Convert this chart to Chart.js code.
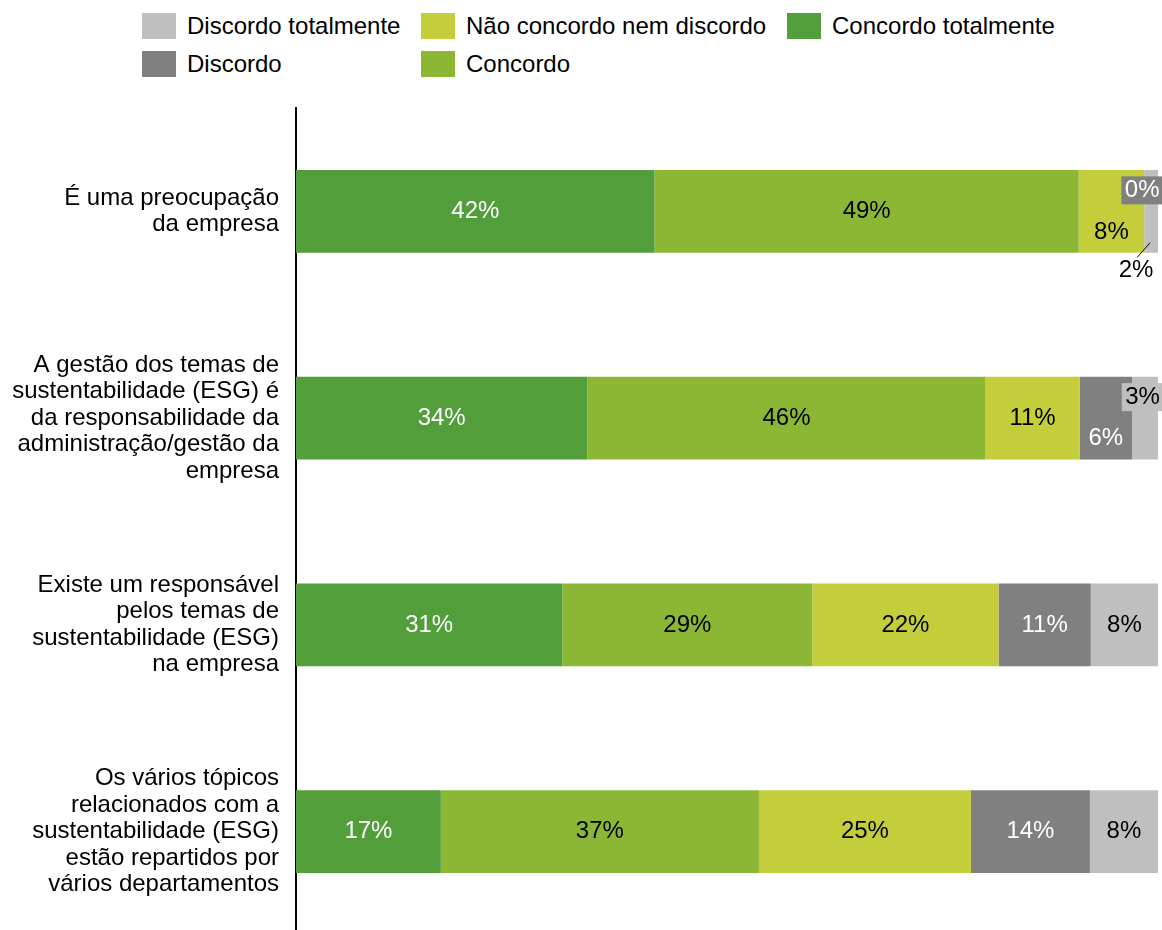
<!DOCTYPE html>
<html>
<head>
<meta charset="utf-8">
<script src="https://cdn.jsdelivr.net/npm/chart.js@4/dist/chart.umd.min.js"></script>
<style>
    body { margin: 0; background: #fff; overflow: hidden; font-family: "Liberation Sans", Arial, sans-serif; }
    #legend { position: absolute; left: 0; top: 0; width: 1162px; height: 100px; }
    .legend-item { position: absolute; height: 26px; font-size: 24px; line-height: 26px; color: #000; white-space: nowrap; }
    .legend-box { position: absolute; left: 0; top: 0; width: 34px; height: 26px; }
    .legend-text { position: absolute; left: 45px; top: 0; }
    #chart { position: absolute; left: 0; top: 0; }
</style>
</head>
<body>
<div id="legend"></div>
<canvas id="chart" width="1162" height="935"></canvas>
<script>
/* ------------------------------- Data -------------------------------*/

var CATEGORIES = [
    ["É uma preocupação", "da empresa"],
    ["A gestão dos temas de", "sustentabilidade (ESG) é", "da responsabilidade da", "administração/gestão da", "empresa"],
    ["Existe um responsável", "pelos temas de", "sustentabilidade (ESG)", "na empresa"],
    ["Os vários tópicos", "relacionados com a", "sustentabilidade (ESG)", "estão repartidos por", "vários departamentos"]
];

var SERIES_NAMES = ["Concordo totalmente", "Concordo", "Não concordo nem discordo", "Discordo", "Discordo totalmente"];

var CONCORDO_TOTALMENTE = [41.6, 33.8, 30.9, 16.8];
var CONCORDO            = [49.2, 46.2, 29.0, 36.9];
var NAO_CONCORDO        = [7.6, 10.9, 21.6, 24.6];
var DISCORDO            = [0, 6.1, 10.7, 13.8];
var DISCORDO_TOTALMENTE = [1.6, 3.0, 7.8, 7.9];

var COLORS      = ["#529E3A", "#8BB734", "#C3CE3A", "#808080", "#BFBFBF"];
var TEXT_COLORS = ["#FFFFFF", "#000000", "#000000", "#FFFFFF", "#000000"];

// Підписи, які в оригіналі зсунуті від центру сегмента ("dataset-index")
var LABEL_TWEAKS = {
    "2-0": { dy: 21 },
    "3-0": { dx: -2, dy: -21, box: true },
    "4-0": { dx: -15, dy: 59, leader: true },
    "3-1": { dy: 20 },
    "4-1": { dx: -2.5, dy: -21, box: true }
};

var FONT = "\"Liberation Sans\", Arial, sans-serif";

/* ------------------------------- Labels plugin -------------------------------*/

var barLabels = {
    id: "barLabels",
    afterDatasetsDraw: function (chart) {
        var ctx = chart.ctx;
        ctx.save();
        ctx.font = "24px " + FONT;
        ctx.textAlign = "center";
        ctx.textBaseline = "middle";

        chart.data.datasets.forEach(function (ds, di) {
            var meta = chart.getDatasetMeta(di);
            meta.data.forEach(function (bar, i) {
                var text = Math.round(ds.data[i]) + "%";
                var tw = LABEL_TWEAKS[di + "-" + i] || {};
                var x = (bar.x + bar.base) / 2 + (tw.dx || 0);
                var y = bar.y + (tw.dy || 0);

                if (tw.box) {                                   // підпис на сірому прямокутнику
                    var w = ctx.measureText(text).width + 7;
                    ctx.fillStyle = ds.backgroundColor;
                    ctx.fillRect(x - w / 2, y - 14, w, 28);
                }
                if (tw.leader) {                                // лінія-вказівник до вузького сегмента
                    ctx.strokeStyle = "#000";
                    ctx.lineWidth = 1;
                    ctx.beginPath();
                    ctx.moveTo((bar.x + bar.base) / 2 - 1, bar.y + bar.height / 2 - 10);
                    ctx.lineTo(x + 1, y - 13);
                    ctx.stroke();
                }
                ctx.fillStyle = tw.leader ? "#000" : TEXT_COLORS[di];
                ctx.fillText(text, x, y);
            });
        });
        ctx.restore();
    }
};

/* ------------------------------- Chart -------------------------------*/

function buildDatasets() {
    var values = [CONCORDO_TOTALMENTE, CONCORDO, NAO_CONCORDO, DISCORDO, DISCORDO_TOTALMENTE];
    return values.map(function (data, i) {
        return {
            label: SERIES_NAMES[i],
            data: data,
            backgroundColor: COLORS[i],
            borderWidth: 0,
            barPercentage: 0.4,
            categoryPercentage: 1
        };
    });
}

function printLegend(chart) {                                   // легенда: 3 колонки x 2 рядки, у зворотному порядку
    var colX = [142, 421, 787];
    var rowY = [13, 51];
    var $legend = document.getElementById("legend");
    var items = chart.data.datasets.slice().reverse();

    items.forEach(function (ds, n) {
        var item = document.createElement("div");
        item.className = "legend-item";
        item.style.left = colX[Math.floor(n / 2)] + "px";
        item.style.top = rowY[n % 2] + "px";
        item.innerHTML = "<span class='legend-box' style='background:" + ds.backgroundColor +
            "'></span><span class='legend-text'>" + ds.label + "</span>";
        $legend.appendChild(item);
    });
}

var chart = new Chart(document.getElementById("chart").getContext("2d"), {
    type: "bar",
    data: {
        labels: CATEGORIES,
        datasets: buildDatasets()
    },
    options: {
        indexAxis: "y",
        responsive: false,
        animation: false,
        layout: { padding: { top: 108, right: 4, bottom: 0, left: 0 } },
        plugins: {
            legend: { display: false },
            tooltip: { enabled: false }
        },
        scales: {
            x: {
                stacked: true,
                min: 0,
                max: 100,
                display: false
            },
            y: {
                stacked: true,
                grid: { display: false, drawTicks: false },
                border: { display: true, color: "#000", width: 2 },
                ticks: {
                    color: "#000",
                    padding: 17,
                    font: { family: FONT, size: 24, lineHeight: 1.1 }
                },
                afterFit: function (scale) {                    // фіксована ширина осі, без запасу під підписи
                    scale.width = 296;
                    scale.paddingTop = 0;
                    scale.paddingBottom = 0;
                }
            }
        }
    },
    plugins: [barLabels]
});

printLegend(chart);
</script>
</body>
</html>
